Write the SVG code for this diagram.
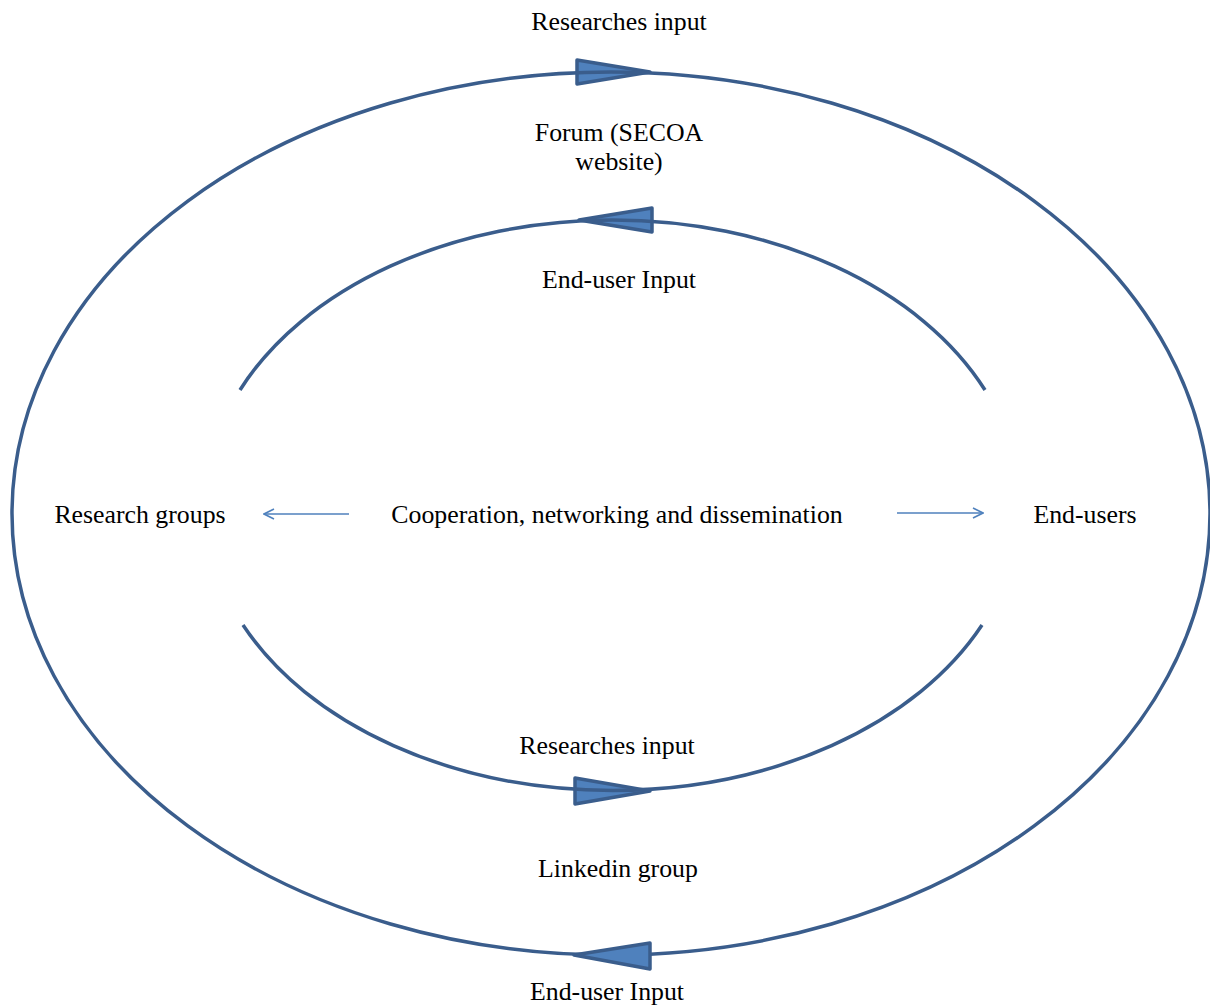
<svg xmlns="http://www.w3.org/2000/svg" width="1210" height="1005" viewBox="0 0 1210 1005">
<style>
.t{font-family:"Liberation Serif","Times New Roman",serif;font-size:25.8px;fill:#000;text-anchor:middle}
.ring{fill:none;stroke:#3A5D8C;stroke-width:3.5}
.head{fill:#4F81BD;stroke:#3A5D8C;stroke-width:3.5;stroke-linejoin:round}
.thin{fill:none;stroke:#4F81BD;stroke-width:1.6}
</style>
<defs>
<marker id="chev" viewBox="0 0 12 12" refX="11" refY="6" markerWidth="12" markerHeight="12" markerUnits="userSpaceOnUse" orient="auto">
<path d="M1 1 L11 6 L1 11" fill="none" stroke="#4F81BD" stroke-width="1.6"/>
</marker>
</defs>
<g id="connectors">
<polygon class="head" points="577,60 650,72 577,84"/>
<polygon class="head" points="652,208 579,220 652,232"/>
<polygon class="head" points="575,778 650,791 575,804"/>
<ellipse class="ring" cx="611" cy="513.5" rx="599" ry="441.5"/>
<path class="ring" d="M240 390 A407.5 286 0 0 1 985 390"/>
<path class="ring" d="M243 625 A407.5 286 0 0 0 982 625"/>
<polygon class="head" points="650,943 574,955 650,969"/>
<line class="thin" x1="349" y1="514" x2="264" y2="514" marker-end="url(#chev)"/>
<line class="thin" x1="897" y1="513" x2="983" y2="513" marker-end="url(#chev)"/>
</g>
<g id="label-top"><text class="t" x="619" y="30">Researches input</text></g>
<g id="forum"><text class="t" x="619" y="141">Forum (SECOA</text><text class="t" x="619" y="170">website)</text></g>
<g id="label-inner-top"><text class="t" x="619" y="288">End-user Input</text></g>
<g id="research-groups"><text class="t" x="140" y="523">Research groups</text></g>
<g id="center"><text class="t" x="617" y="523">Cooperation, networking and dissemination</text></g>
<g id="end-users"><text class="t" x="1085" y="523">End-users</text></g>
<g id="label-inner-bottom"><text class="t" x="607" y="754">Researches input</text></g>
<g id="linkedin"><text class="t" x="618" y="877">Linkedin group</text></g>
<g id="label-bottom"><text class="t" x="607" y="1000">End-user Input</text></g>
</svg>
